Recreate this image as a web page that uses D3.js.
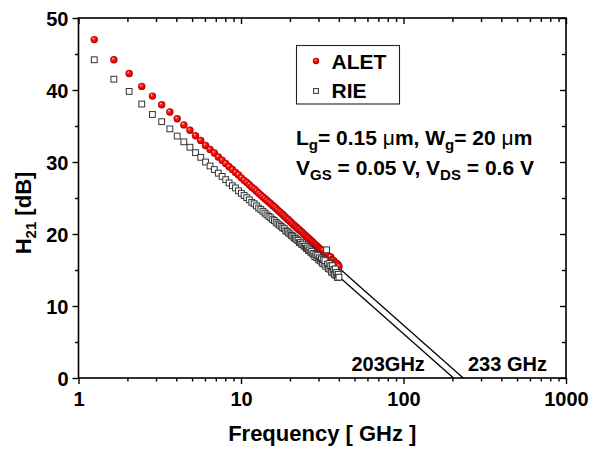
<!DOCTYPE html>
<html>
<head>
<meta charset="utf-8">
<script src="https://cdn.jsdelivr.net/npm/d3@7"></script>
<style>
    body { margin: 0; background: #fff; }
    svg { display: block; font-family: "Liberation Sans", Arial, sans-serif; }
</style>
</head>
<body>
<svg id="chart" width="589" height="450"></svg>
<script>
'use strict';

// measured points, 0.4 GHz step
const frequencyGHz = [
    1.25, 1.65, 2.05, 2.45, 2.85, 3.25, 3.65, 4.05, 4.45, 4.85,
    5.25, 5.65, 6.05, 6.45, 6.85, 7.25, 7.65, 8.05, 8.45, 8.85,
    9.25, 9.65, 10.05, 10.45, 10.85, 11.25, 11.65, 12.05, 12.45, 12.85,
    13.25, 13.65, 14.05, 14.45, 14.85, 15.25, 15.65, 16.05, 16.45, 16.85,
    17.25, 17.65, 18.05, 18.45, 18.85, 19.25, 19.65, 20.05, 20.45, 20.85,
    21.25, 21.65, 22.05, 22.45, 22.85, 23.25, 23.65, 24.05, 24.45, 24.85,
    25.25, 25.65, 26.05, 26.45, 26.85, 27.25, 27.65, 28.05, 28.45, 28.85,
    29.25, 29.65, 30.05, 30.45, 30.85, 31.25, 31.65, 32.05, 32.45, 32.85,
    33.25, 33.65, 34.05, 34.45, 34.85, 35.25, 35.65, 36.05, 36.45, 36.85,
    37.25, 37.65, 38.05, 38.45, 38.85, 39.25, 39.65, 40.05
];

const aletDb = [
    47.0, 44.2, 42.3, 40.5, 39.15, 37.95, 36.95, 36.0, 35.15, 34.4,
    33.65, 33.0, 32.3, 31.75, 31.25, 30.7, 30.25, 29.8, 29.35, 28.95,
    28.55, 28.2, 27.8, 27.45, 27.15, 26.85, 26.5, 26.25, 25.95, 25.65,
    25.4, 25.15, 24.9, 24.65, 24.4, 24.2, 23.95, 23.75, 23.55, 23.3,
    23.1, 22.9, 22.7, 22.5, 22.3, 22.1, 21.95, 21.75, 21.55, 21.35,
    21.2, 21.05, 20.9, 20.7, 20.6, 20.4, 20.3, 20.1, 19.95, 19.8,
    19.65, 19.5, 19.4, 19.25, 19.1, 19.0, 18.85, 18.7, 18.55, 18.45,
    18.35, 18.2, 18.1, 17.95, 17.85, 17.8, 17.6, 17.7, 17.3, 17.4,
    17.2, 16.9, 17.1, 16.8, 16.8, 16.5, 16.8, 16.4, 16.4, 16.1,
    16.3, 16.0, 16.0, 15.8, 15.9, 15.7, 15.7, 15.5
];

const rieDb = [
    44.2, 41.5, 39.8, 38.05, 36.6, 35.6, 34.6, 33.6, 32.8, 32.05,
    31.3, 30.65, 30.0, 29.45, 28.95, 28.45, 28.0, 27.55, 27.1, 26.7,
    26.4, 26.0, 25.65, 25.35, 25.05, 24.75, 24.4, 24.2, 23.9, 23.6,
    23.4, 23.15, 22.9, 22.65, 22.45, 22.25, 22.0, 21.85, 21.6, 21.4,
    21.25, 21.05, 20.85, 20.75, 20.45, 20.35, 20.15, 20.0, 19.8, 19.7,
    19.45, 19.4, 19.2, 19.1, 18.8, 18.8, 18.55, 18.6, 18.3, 18.3,
    18.0, 18.05, 17.7, 17.8, 17.45, 17.6, 17.2, 17.3, 16.85, 17.15,
    16.7, 17.0, 16.4, 16.7, 16.25, 16.55, 15.95, 16.45, 15.8, 16.3,
    15.5, 17.8, 15.8, 15.2, 15.9, 15.1, 15.6, 14.7, 15.6, 14.6,
    15.1, 14.35, 15.15, 14.25, 14.65, 13.95, 14.4, 14.0
];

// -20 dB/dec extrapolations to fT
const aletFitGHz = [17.4, 233];
const aletFitDb = [22.5, 0];
const rieFitGHz = [20, 203];
const rieFitDb = [20.1, 0];

const seriesNames = ['ALET', 'RIE'];
const cutoffLabels = ['203GHz', '233 GHz'];
const xTickValues = [1, 10, 100, 1000];
const yTickValues = [0, 10, 20, 30, 40, 50];

const margin = { top: 18, right: 23, bottom: 72, left: 78.5 };
const width = 589, height = 450;

const svg = d3.select('#chart');

const x = d3.scaleLog().domain([1, 1000]).range([margin.left, width - margin.right]);
const y = d3.scaleLinear().domain([0, 50]).range([height - margin.bottom, margin.top]);

const defs = svg.append('defs');
const grad = defs.append('radialGradient')
    .attr('id', 'sphere')
    .attr('cx', '50%').attr('cy', '50%').attr('r', '50%')
    .attr('fx', '35%').attr('fy', '30%');
grad.append('stop').attr('offset', '0%').attr('stop-color', '#ffe0e0');
grad.append('stop').attr('offset', '30%').attr('stop-color', '#ff2a2a');
grad.append('stop').attr('offset', '75%').attr('stop-color', '#e00000');
grad.append('stop').attr('offset', '100%').attr('stop-color', '#a30000');

// axes: majors with labels, minors from the scale's own ticks
const minorX = x.ticks().filter(v => xTickValues.indexOf(v) < 0);
const minorY = y.ticks(10).filter(v => yTickValues.indexOf(v) < 0);

function drawAxis(axis, transform, showLabels) {
    const g = svg.append('g').attr('transform', transform).call(axis);
    g.select('.domain').remove();
    g.selectAll('line').attr('stroke', '#000').attr('stroke-width', 1.4);
    if (!showLabels) g.selectAll('text').remove();
    return g;
}

const xBottom = drawAxis(d3.axisBottom(x).tickValues(xTickValues).tickSize(6).tickPadding(4).tickFormat(d3.format('d')),
    `translate(0,${y(0)})`, true);
drawAxis(d3.axisBottom(x).tickValues(minorX).tickSize(3.5), `translate(0,${y(0)})`, false);
drawAxis(d3.axisTop(x).tickValues(xTickValues).tickSize(-6), `translate(0,${y(50)})`, false);
drawAxis(d3.axisTop(x).tickValues(minorX).tickSize(-4), `translate(0,${y(50)})`, false);

const yLeft = drawAxis(d3.axisLeft(y).tickValues(yTickValues).tickSize(6).tickPadding(4),
    `translate(${x(1)},0)`, true);
drawAxis(d3.axisLeft(y).tickValues(minorY).tickSize(3.5), `translate(${x(1)},0)`, false);
drawAxis(d3.axisRight(y).tickValues(yTickValues).tickSize(-6), `translate(${x(1000)},0)`, false);
drawAxis(d3.axisRight(y).tickValues(minorY).tickSize(-4), `translate(${x(1000)},0)`, false);

[xBottom, yLeft].forEach(g => g.selectAll('text')
    .attr('font-size', 20).attr('font-weight', 'bold').attr('fill', '#000')
    .attr('font-family', '"Liberation Sans", Arial, sans-serif'));
xBottom.selectAll('text').attr('dy', '0.9em');
yLeft.selectAll('text').attr('dy', '0.36em');

svg.append('rect')
    .attr('x', x(1)).attr('y', y(50))
    .attr('width', x(1000) - x(1)).attr('height', y(0) - y(50))
    .attr('fill', 'none').attr('stroke', '#000').attr('stroke-width', 1.6);

// fit lines
const line = d3.line().x(d => x(d[0])).y(d => y(d[1]));
[[aletFitGHz, aletFitDb], [rieFitGHz, rieFitDb]].forEach(fit => {
    svg.append('path')
        .datum(fit[0].map((f, i) => [f, fit[1][i]]))
        .attr('d', line)
        .attr('fill', 'none')
        .attr('stroke', '#000')
        .attr('stroke-width', 1.3);
});

// ALET spheres
svg.append('g').selectAll('circle')
    .data(frequencyGHz.map((f, i) => [f, aletDb[i]]))
    .enter()
    .append('circle')
    .attr('cx', d => x(d[0]))
    .attr('cy', d => y(d[1]))
    .attr('r', 3.7)
    .attr('fill', 'url(#sphere)');

// RIE open squares
const sq = 5.8;
svg.append('g').selectAll('rect')
    .data(frequencyGHz.map((f, i) => [f, rieDb[i]]))
    .enter()
    .append('rect')
    .attr('x', d => x(d[0]) - sq / 2)
    .attr('y', d => y(d[1]) - sq / 2)
    .attr('width', sq)
    .attr('height', sq)
    .attr('fill', '#fff')
    .attr('stroke', '#333')
    .attr('stroke-width', 1);

// legend
const legend = svg.append('g');
legend.append('rect')
    .attr('x', 296.5).attr('y', 45.5).attr('width', 103).attr('height', 58.5)
    .attr('fill', '#fff').attr('stroke', '#222').attr('stroke-width', 1.1);
legend.append('circle').attr('cx', 316).attr('cy', 61).attr('r', 3.2).attr('fill', 'url(#sphere)');
legend.append('rect').attr('x', 313.6).attr('y', 88.6).attr('width', 4.8).attr('height', 4.8)
    .attr('fill', '#fff').attr('stroke', '#333').attr('stroke-width', 1);
seriesNames.forEach((name, i) => {
    legend.append('text')
        .attr('x', 331.5).attr('y', 69 + i * 29)
        .attr('font-size', 21).attr('font-weight', 'bold')
        .text(name);
});

// device conditions
function condLine(yPos, parts) {
    const t = svg.append('text').attr('x', 296).attr('y', yPos)
        .attr('font-size', 21).attr('font-weight', 'bold');
    parts.forEach(p => {
        const s = t.append('tspan').text(p[0]);
        if (p[1] === 'sub') s.attr('font-size', 15).attr('dy', 5);
        if (p[1] === 'up') s.attr('dy', -5);
        if (p[1] === 'mu') s.attr('font-weight', 'normal');
    });
}
condLine(145, [['L'], ['g', 'sub'], ['= 0.15 ', 'up'], ['\u03bc', 'mu'], ['m, W'], ['g', 'sub'], ['= 20 ', 'up'], ['\u03bc', 'mu'], ['m']]);
condLine(175, [['V'], ['GS', 'sub'], [' = 0.05 V, V', 'up'], ['DS', 'sub'], [' = 0.6 V', 'up']]);

// cutoff labels
svg.append('text').attr('x', 351.5).attr('y', 371)
    .attr('font-size', 20).attr('font-weight', 'bold').text(cutoffLabels[0]);
svg.append('text').attr('x', 468).attr('y', 371)
    .attr('font-size', 20).attr('font-weight', 'bold').text(cutoffLabels[1]);

// axis titles
svg.append('text')
    .attr('x', (x(1) + x(1000)) / 2).attr('y', 441)
    .attr('text-anchor', 'middle')
    .attr('font-size', 22).attr('font-weight', 'bold')
    .text('Frequency [ GHz ]');

const yTitle = svg.append('text')
    .attr('transform', 'translate(31,213) rotate(-90)')
    .attr('text-anchor', 'middle')
    .attr('font-size', 22).attr('font-weight', 'bold');
yTitle.append('tspan').text('H');
yTitle.append('tspan').attr('font-size', 15).attr('dy', 5).text('21');
yTitle.append('tspan').attr('dy', -5).text(' [dB]');
</script>
</body>
</html>
